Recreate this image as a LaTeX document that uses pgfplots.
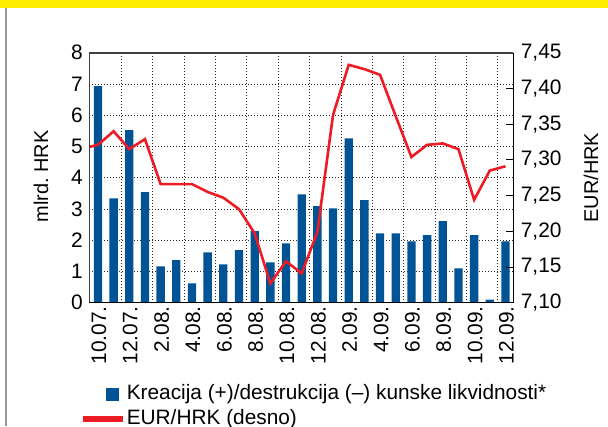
\documentclass[border=0pt]{standalone}
\usepackage{fontspec}
\setmainfont{Liberation Sans}
\usepackage{pgfplots}
\pgfplotsset{compat=1.18}

\definecolor{barblue}{RGB}{0,84,150}
\definecolor{linered}{RGB}{237,28,36}
\definecolor{bandyellow}{RGB}{255,237,0}

\pgfplotsset{
  common/.style={
    scale only axis, width=424bp, height=250bp,
    at={(89.3bp,123.3bp)}, anchor=south west,
    xmin=-0.55, xmax=26.5,
    axis line style={draw=none},
    tick label style={font=\fontsize{21}{21}\selectfont},
    label style={font=\fontsize{20}{20}\selectfont},
    /pgf/number format/assume math mode=true,
  },
}

\begin{document}
\begin{tikzpicture}[x=1bp,y=1bp]
\useasboundingbox (0,0) rectangle (608,426);
\fill[bandyellow] (0,418) rectangle (608,426);
\draw[black!40, line width=2bp] (6,0) -- (6,418);

% left axis: liquidity creation / destruction
\begin{axis}[common,
    ymin=0, ymax=8, ytick={0,...,8},
    xtick={0,2,...,26},
    xticklabels={10.07.,12.07.,2.08.,4.08.,6.08.,8.08.,10.08.,12.08.,2.09.,4.09.,6.09.,8.09.,10.09.,12.09.},
    minor xtick={1.5,3.5,...,25.5},
    xminorgrids, ymajorgrids,
    grid style={black!85, line width=0.7bp, dash pattern=on 0.8bp off 2.2bp},
    minor grid style={black!85, line width=0.7bp, dash pattern=on 0.8bp off 2.2bp},
    major tick length=0pt, minor tick length=0pt,
    xticklabel style={rotate=90, anchor=east, yshift=-1bp},
    yticklabel style={xshift=-3bp},
    ylabel={mlrd.\ HRK},
    ylabel style={at={(axis description cs:-0.114,0.505)}, anchor=center},
  ]
  \addplot[ybar, bar width=0.53, fill=barblue, draw=none] coordinates {
    (0,6.93) (1,3.34) (2,5.52) (3,3.54) (4,1.16) (5,1.36) (6,0.62)
    (7,1.61) (8,1.23) (9,1.68) (10,2.29) (11,1.29) (12,1.90) (13,3.47)
    (14,3.09) (15,3.02) (16,5.26) (17,3.28) (18,2.22) (19,2.22) (20,1.96)
    (21,2.16) (22,2.61) (23,1.10) (24,2.16) (25,0.10) (26,1.96)
  };
\end{axis}

% right axis: EUR/HRK
\begin{axis}[common,
    ymin=7.10, ymax=7.45,
    ytick={7.10,7.15,7.20,7.25,7.30,7.35,7.40,7.45},
    hide x axis,
    ytick pos=right, yticklabel pos=right,
    tick align=inside, major tick length=7bp,
    tick style={black, line width=0.8bp},
    yticklabel style={xshift=4bp, /pgf/number format/.cd, use comma, fixed, fixed zerofill, precision=2},
    ylabel={EUR/HRK},
    ylabel style={at={(axis description cs:1.183,0.50)}, anchor=center},
    legend style={at={(axis description cs:-0.0149,-0.327)}, anchor=north west,
      draw=none, fill=none, inner sep=0pt, row sep=6bp,
      font=\fontsize{20.9}{20.9}\selectfont,
      nodes={inner sep=0pt, text height=15bp, text depth=4bp},
      /tikz/every odd column/.append style={column sep=4bp}},
    legend cell align=left,
  ]
  \addlegendimage{draw=none, legend image code/.code={
      \path[draw=none, fill=none] (0bp,-0.1bp) rectangle (37bp,0.1bp);
      \fill[barblue] (22bp,-6.5bp) rectangle (35bp,6.5bp);}}
  \addlegendentry{Kreacija (+)/destrukcija (–) kunske likvidnosti*}
  \addplot[linered, line width=2.6bp,
    legend image code/.code={\fill[linered] (0bp,-1.4bp) rectangle (37bp,1.4bp);}]
    coordinates {
    (-0.55,7.318) (0,7.321) (1,7.340) (2,7.315) (3,7.329) (4,7.266) (5,7.266)
    (6,7.266) (7,7.255) (8,7.247) (9,7.231) (10,7.197) (11,7.127) (12,7.158)
    (13,7.141) (14,7.199) (15,7.363) (16,7.433) (17,7.427) (18,7.419)
    (19,7.361) (20,7.304) (21,7.321) (22,7.323) (23,7.315) (24,7.244)
    (25,7.285) (26,7.291)
  };
  \addlegendentry{EUR/HRK (desno)}
\end{axis}

\draw[black!75, line width=1.6bp] (89.3,123.3) -- (89.3,373.3) -- (513.3,373.3);
\draw[black, line width=1bp] (513.3,373.3) -- (513.3,123.3) -- (89.3,123.3);
\end{tikzpicture}
\end{document}
